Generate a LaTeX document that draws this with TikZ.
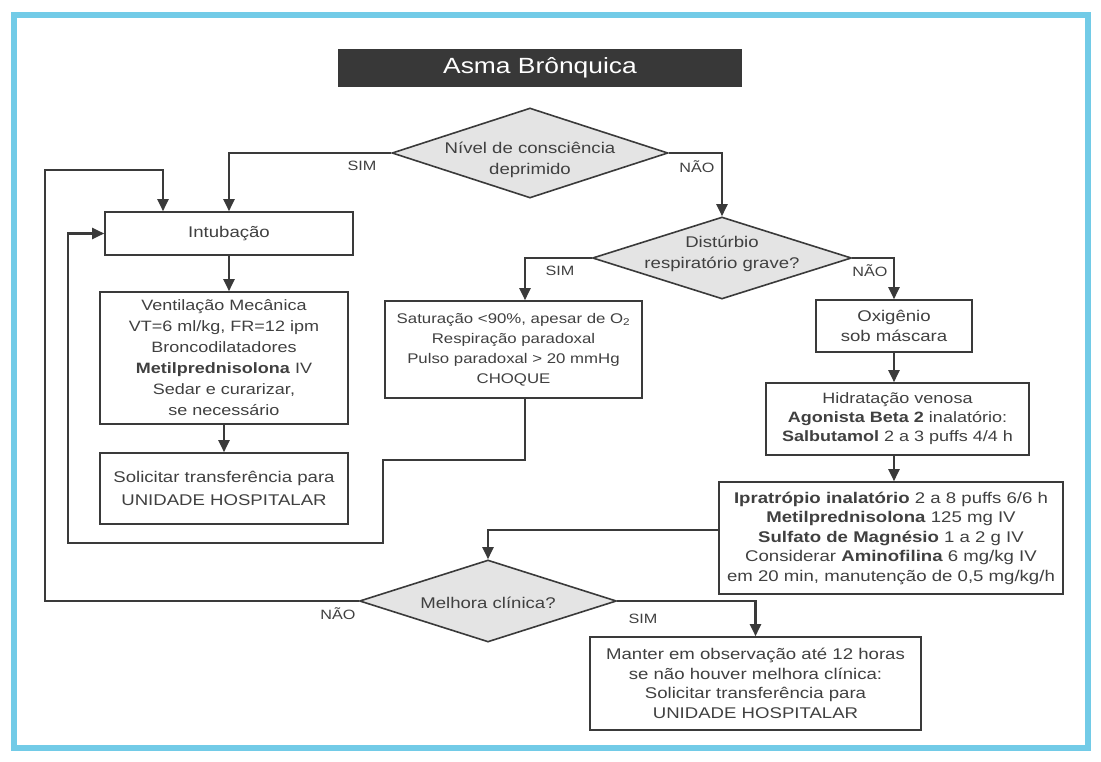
\documentclass[tikz,border=0pt]{standalone}
\usepackage{fontspec}
\setmainfont{Liberation Sans}[FakeStretch=1.2]
\usetikzlibrary{shapes.geometric,arrows.meta}
\definecolor{ink}{HTML}{3A3A3A}
\definecolor{txt}{HTML}{404040}
\definecolor{framecol}{HTML}{72CBE7}
\definecolor{dfill}{HTML}{E4E4E4}
\definecolor{titlebg}{HTML}{383838}

\begin{document}
\begin{tikzpicture}[x=1pt,y=-1pt,
  every node/.style={text=txt, align=center, inner sep=0pt},
  box/.style={draw=ink, line width=1.6pt, rectangle, fill=white,
    font=\fontsize{15.5}{20}\selectfont},
  dec/.style={draw=ink, line width=1.6pt, diamond, fill=dfill},
  dtext/.style={font=\fontsize{15.5}{21}\selectfont},
  link/.style={draw=ink, line width=2.2pt, -{Triangle[width=11pt,length=12pt]}},
  lbl/.style={font=\fontsize{13.5}{16}\selectfont}
]
\useasboundingbox (0,0) rectangle (1101,762);
\fill[white] (0,0) rectangle (1101,762);
% outer frame
\draw[framecol, line width=5.5pt] (14,15) rectangle (1088,748);

% title bar
\node[fill=titlebg, minimum width=404pt, minimum height=38pt, text=white,
  font=\fontsize{22}{26}\selectfont] (title) at (540,68) {Asma Brônquica};

% decisions
\node[dec, minimum width=276pt, minimum height=90pt] (d1) at (530,153) {};
\node[dtext] (d1t) at (530,160) {Nível de consciência\\deprimido};
\node[dec, minimum width=259pt, minimum height=82pt] (d2) at (722,258) {};
\node[dtext] (d2t) at (722,254) {Distúrbio\\respiratório grave?};
\node[dec, minimum width=257pt, minimum height=82pt] (d3) at (488,601) {};
\node[dtext] (d3t) at (488,603) {Melhora clínica?};

% left column
\node[box, minimum width=248pt, minimum height=43pt] (intub) at (229,233.5) {Intubação};
\node[box, minimum width=248pt, minimum height=132pt,
  font=\fontsize{15}{21}\selectfont] (vent) at (224,358)
  {Ventilação Mecânica\\VT=6 ml/kg, FR=12 ipm\\Broncodilatadores\\
   \textbf{Metilprednisolona} IV\\Sedar e curarizar,\\se necessário};
\node[box, minimum width=248pt, minimum height=71pt,
  font=\fontsize{15.5}{23}\selectfont] (solic) at (224,488.5)
  {Solicitar transferência para\\UNIDADE HOSPITALAR};

% middle column
\node[box, minimum width=257pt, minimum height=97pt,
  font=\fontsize{14}{20}\selectfont] (choque) at (513.5,349.5)
  {Saturação <90\%, apesar de O\textsubscript{2}\\Respiração paradoxal\\
   Pulso paradoxal > 20 mmHg\\CHOQUE};

% right column
\node[box, minimum width=156pt, minimum height=52pt] (oxi) at (894,326)
  {Oxigênio\\sob máscara};
\node[box, minimum width=263pt, minimum height=72pt,
  font=\fontsize{15}{19}\selectfont] (hidr) at (897.5,419)
  {Hidratação venosa\\\textbf{Agonista Beta 2} inalatório:\\
   \textbf{Salbutamol} 2 a 3 puffs 4/4 h};
\node[box, minimum width=344pt, minimum height=112pt,
  font=\fontsize{15.5}{19.5}\selectfont] (ipra) at (891,538)
  {\textbf{Ipratrópio inalatório} 2 a 8 puffs 6/6 h\\
   \textbf{Metilprednisolona} 125 mg IV\\
   \textbf{Sulfato de Magnésio} 1 a 2 g IV\\
   Considerar \textbf{Aminofilina} 6 mg/kg IV\\
   em 20 min, manutenção de 0,5 mg/kg/h};
\node[box, minimum width=331pt, minimum height=93pt,
  font=\fontsize{15.5}{19.5}\selectfont] (manter) at (755.5,683.5)
  {Manter em observação até 12 horas\\se não houver melhora clínica:\\
   Solicitar transferência para\\UNIDADE HOSPITALAR};

% routing points
\coordinate (cqx) at (525,0);
\coordinate (cq1) at (525,460);
\coordinate (cq2) at (383,543);
\coordinate (cq3) at (68,543);
\coordinate (lpA) at (45,170);
\coordinate (lpB) at (163,0);
\coordinate (ipx) at (0,530);

% connectors
\draw[link] (d1.west) -| (intub.north);
\draw[link] (d1.east) -| (d2.north);
\draw[link] (intub.south) -- (intub.south |- vent.north);
\draw[link] (vent.south) -- (solic.north);
\draw[link] (d2.west) -| (choque.north -| cqx);
\draw[link] (d2.east) -| (oxi.north);
\draw[link] (oxi.south) -- (oxi.south |- hidr.north);
\draw[link] (hidr.south -| oxi.south) -- (oxi.south |- ipra.north);
\draw[link] (ipra.west |- ipx) -| (d3.north);
\draw[link] (d3.east) -| (manter.north);
\draw[link] (d3.west) -| (lpA) -| (intub.north -| lpB);
\draw[link] (choque.south -| cqx) -- (cq1) -| (cq2) -- (cq3) |- (intub.west);

% branch labels
\node[lbl] (s1) at (362,166) {SIM};
\node[lbl] (n1) at (697,167) {NÃO};
\node[lbl] (s2) at (560,271) {SIM};
\node[lbl] (n2) at (870,271) {NÃO};
\node[lbl] (n3) at (338,614) {NÃO};
\node[lbl] (s3) at (643,619) {SIM};
\end{tikzpicture}
\end{document}
